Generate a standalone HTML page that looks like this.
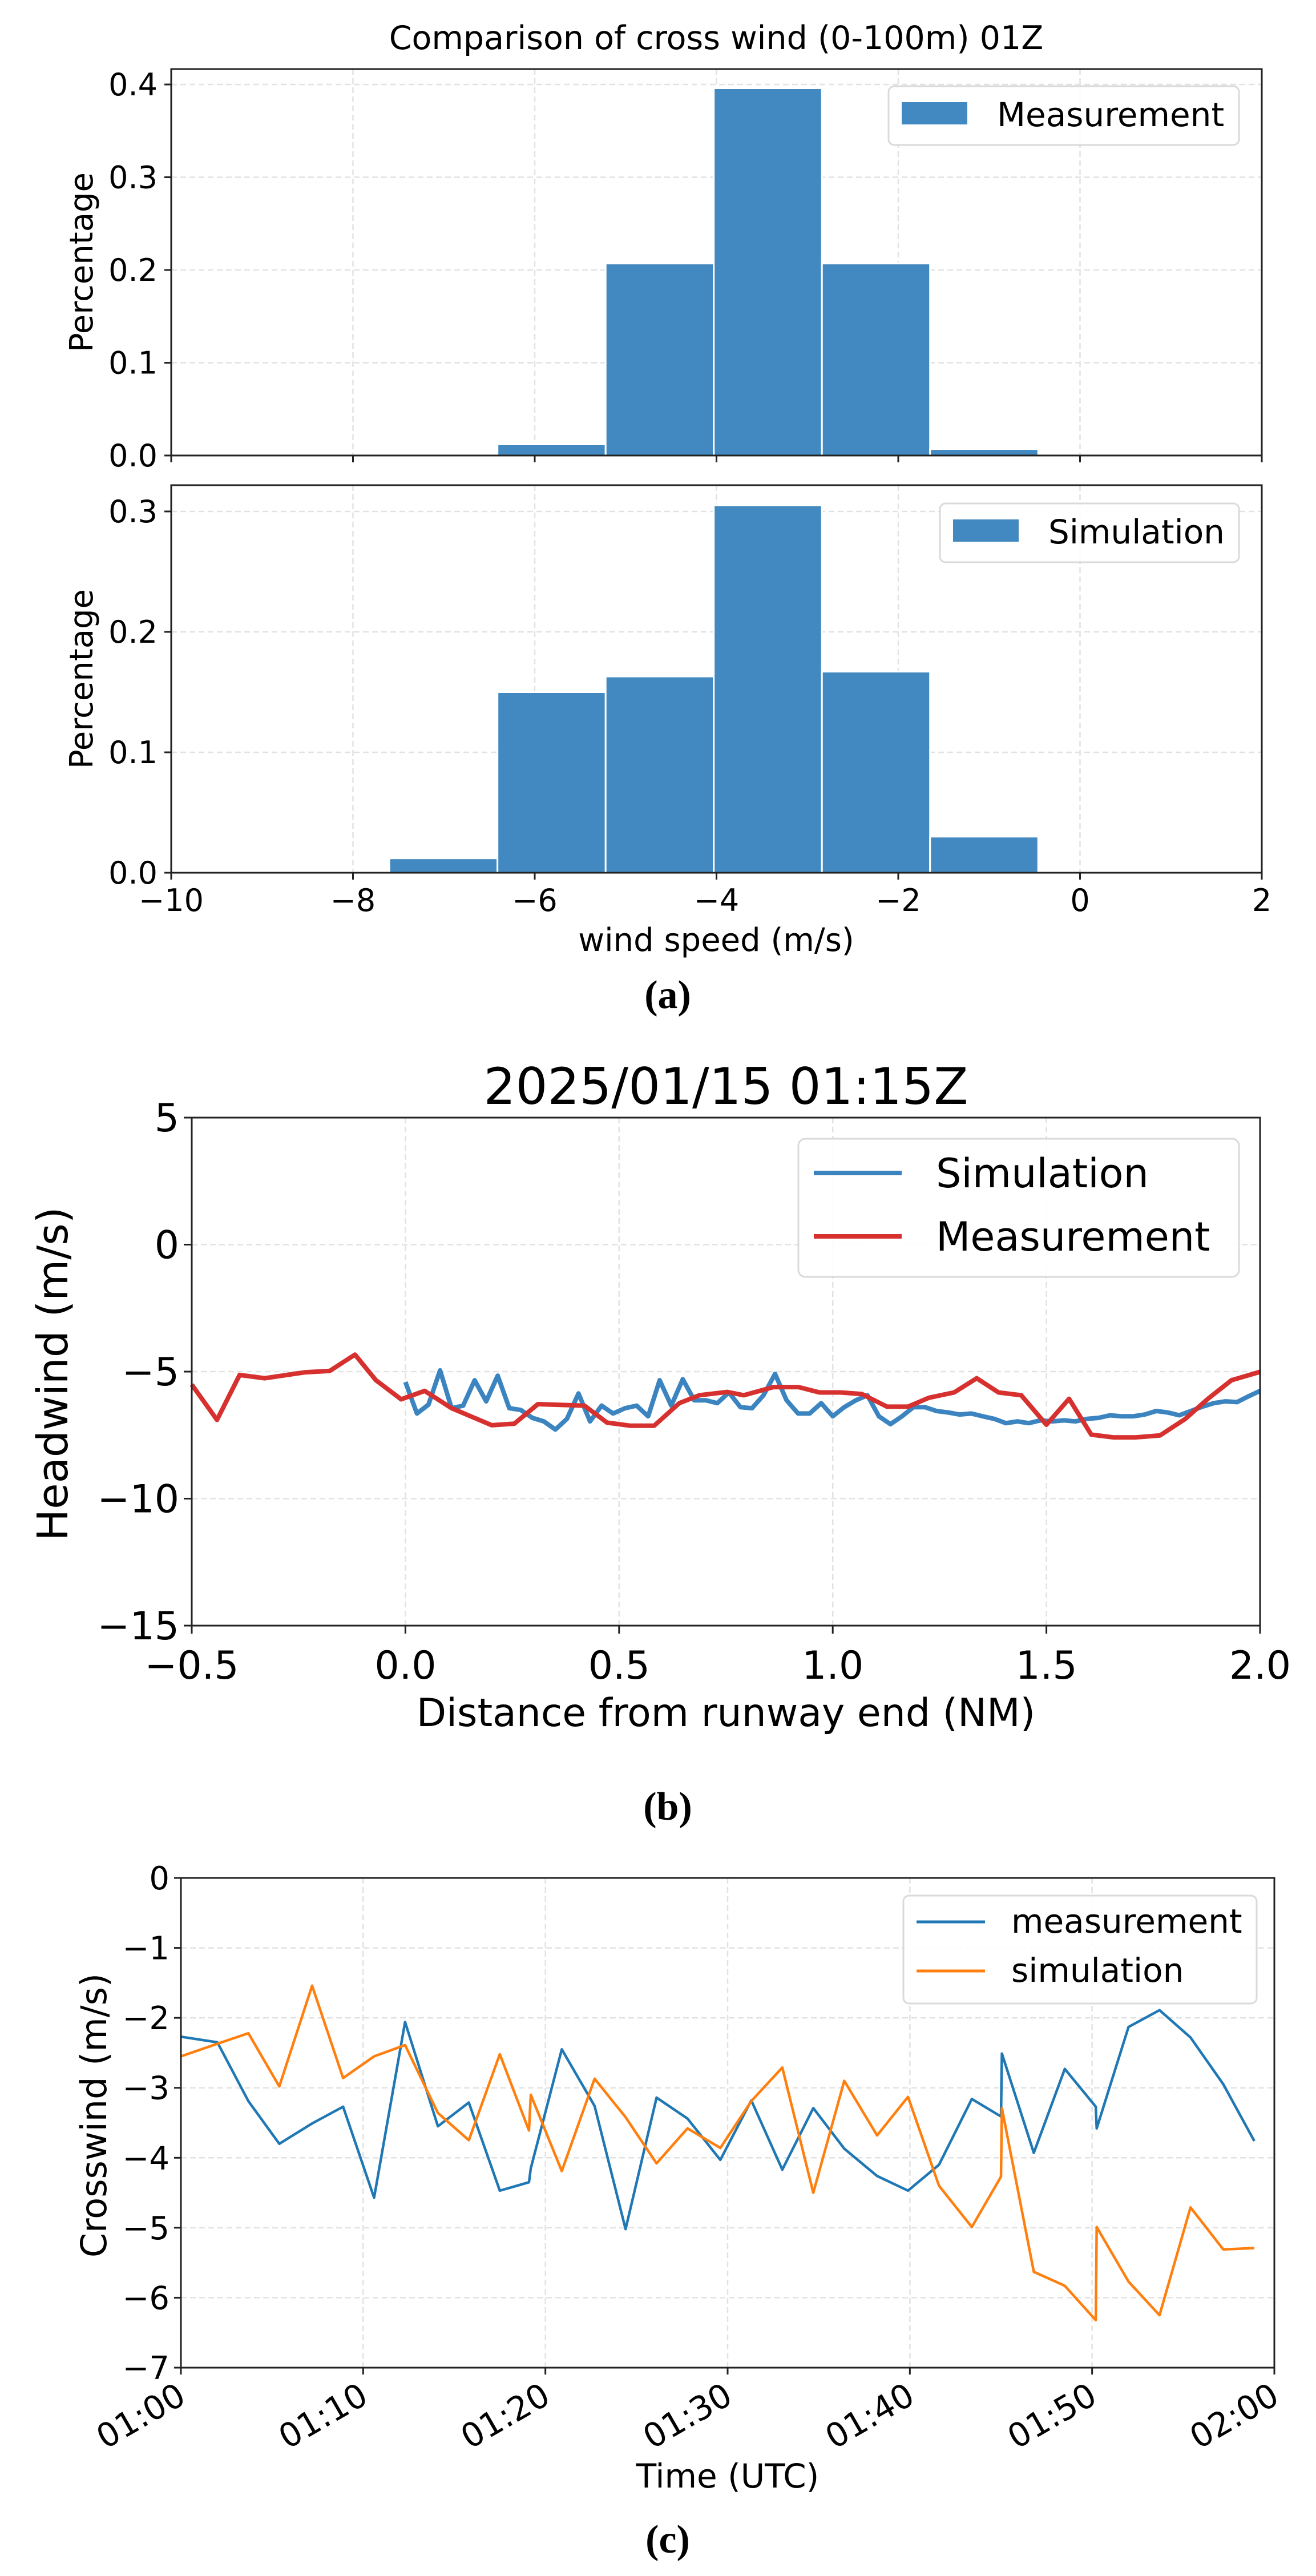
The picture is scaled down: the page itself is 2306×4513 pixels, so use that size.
<!DOCTYPE html>
<html><head><meta charset="utf-8"><style>
html,body{margin:0;padding:0;background:#fff}
svg{display:block}
text{font-family:"DejaVu Sans","Liberation Sans",sans-serif;fill:#000}
.cap{font-family:"Liberation Serif",serif}
</style></head><body>
<svg id="fig" width="2306" height="4513" viewBox="0 0 2306 4513" xmlns="http://www.w3.org/2000/svg">
<rect width="2306" height="4513" fill="#fff"/>
</svg>
<script>
// ---------- Panel (a) data ----------
const binEdges = [-7.6, -6.41, -5.22, -4.03, -2.84, -1.65, -0.46];
const measPct = [0, 0.012, 0.207, 0.396, 0.207, 0.007];
const simPct = [0.012, 0.150, 0.163, 0.305, 0.167, 0.030];
const aXTicks = [-10, -8, -6, -4, -2, 0, 2];
const aTopYTicks = [0.0, 0.1, 0.2, 0.3, 0.4];
const aBotYTicks = [0.0, 0.1, 0.2, 0.3];
// ---------- Panel (b) data ----------
const measDist = [-0.5,-0.441,-0.388,-0.329,-0.236,-0.177,-0.118,-0.069,-0.010,0.045,0.108,0.202,0.255,0.310,0.419,0.472,0.527,0.582,0.641,0.688,0.753,0.792,0.861,0.920,0.969,1.018,1.068,1.127,1.176,1.225,1.284,1.337,1.388,1.441,1.500,1.553,1.605,1.658,1.707,1.766,1.825,1.878,1.933,2.0];
const measHead = [-5.51,-6.90,-5.13,-5.26,-5.03,-4.97,-4.33,-5.34,-6.09,-5.76,-6.44,-7.11,-7.05,-6.28,-6.34,-7.01,-7.13,-7.13,-6.24,-5.93,-5.80,-5.93,-5.61,-5.61,-5.82,-5.82,-5.88,-6.38,-6.38,-6.03,-5.82,-5.26,-5.82,-5.93,-7.09,-6.07,-7.48,-7.59,-7.59,-7.51,-6.86,-6.07,-5.34,-5.01];
const simDist = [0,0.027,0.054,0.081,0.108,0.135,0.162,0.189,0.216,0.243,0.270,0.297,0.324,0.351,0.378,0.405,0.432,0.459,0.486,0.514,0.541,0.568,0.595,0.622,0.649,0.676,0.703,0.730,0.757,0.784,0.811,0.838,0.865,0.892,0.919,0.946,0.973,1.0,1.027,1.054,1.081,1.108,1.135,1.162,1.189,1.216,1.243,1.270,1.297,1.324,1.351,1.378,1.405,1.432,1.459,1.486,1.514,1.541,1.568,1.595,1.622,1.649,1.676,1.703,1.730,1.757,1.784,1.811,1.838,1.865,1.892,1.919,1.946,1.973,2.0];
const simHead = [-5.41,-6.65,-6.30,-4.95,-6.44,-6.34,-5.34,-6.17,-5.16,-6.44,-6.51,-6.82,-6.96,-7.28,-6.86,-5.86,-6.96,-6.34,-6.65,-6.44,-6.34,-6.76,-5.34,-6.34,-5.30,-6.13,-6.13,-6.24,-5.82,-6.40,-6.44,-5.93,-5.09,-6.13,-6.65,-6.65,-6.24,-6.76,-6.40,-6.13,-5.93,-6.76,-7.07,-6.76,-6.40,-6.40,-6.55,-6.61,-6.69,-6.65,-6.76,-6.86,-7.03,-6.96,-7.03,-6.92,-6.96,-6.92,-6.96,-6.86,-6.82,-6.72,-6.76,-6.76,-6.69,-6.55,-6.61,-6.72,-6.55,-6.38,-6.24,-6.17,-6.20,-5.97,-5.76];
const bXTicks = [-0.5, 0.0, 0.5, 1.0, 1.5, 2.0];
const bXLabels = ["\u22120.5","0.0","0.5","1.0","1.5","2.0"];
const bYTicks = [5, 0, -5, -10, -15];
// ---------- Panel (c) data ----------
const cMinutes = [0,2.0,3.7,5.4,7.2,8.9,10.6,12.3,14.1,15.8,17.5,19.1,19.2,20.9,22.7,24.4,26.1,27.8,29.6,31.3,33.0,34.7,36.4,38.2,39.9,41.6,43.4,45.0,45.05,46.8,48.5,50.2,50.25,52.0,53.7,55.4,57.2,58.9];
const cMeas = [-2.27,-2.35,-3.19,-3.80,-3.51,-3.27,-4.57,-2.06,-3.55,-3.21,-4.47,-4.35,-4.15,-2.45,-3.26,-5.02,-3.14,-3.44,-4.03,-3.18,-4.17,-3.29,-3.87,-4.26,-4.47,-4.10,-3.16,-3.41,-2.51,-3.93,-2.73,-3.27,-3.58,-2.13,-1.89,-2.28,-2.95,-3.76];
const cSim = [-2.55,-2.37,-2.22,-2.98,-1.54,-2.86,-2.55,-2.39,-3.36,-3.75,-2.52,-3.61,-3.10,-4.19,-2.87,-3.42,-4.08,-3.58,-3.86,-3.19,-2.71,-4.50,-2.90,-3.68,-3.13,-4.40,-4.99,-4.27,-3.29,-5.63,-5.83,-6.32,-4.99,-5.77,-6.25,-4.71,-5.31,-5.29];
const cXTicks = [0, 10, 20, 30, 40, 50, 60];
const cXLabels = ["01:00","01:10","01:20","01:30","01:40","01:50","02:00"];
const cYTicks = [0, -1, -2, -3, -4, -5, -6, -7];

const NS = "http://www.w3.org/2000/svg";
const svg = document.getElementById('fig');
function mk(tag, attrs, parent) {
  const e = document.createElementNS(NS, tag);
  for (const k in attrs) e.setAttribute(k, attrs[k]);
  (parent || svg).appendChild(e);
  return e;
}
function txt(s, attrs, parent) { const e = mk('text', attrs, parent); e.textContent = s; return e; }
function lin(d0, d1, r0, r1) { return v => r0 + (v - d0) * (r1 - r0) / (d1 - d0); }
function fmtMinus(v, dec) { const s = Math.abs(v).toFixed(dec); return (v < 0 ? "\u2212" : "") + s; }

// ===================== Panel (a) =====================
const ax = lin(-10, 2, 300, 2211);
const ayTop = lin(0, 0.4, 798, 148);
const ayBot = lin(0, 0.3, 1529, 896);

let t = txt("Comparison of cross wind (0-100m) 01Z", {x:1255, y:86, 'font-size':57, 'text-anchor':'middle'});



function histPanel(top, bottom, ay, yTicks, vals, name, legendLabel, leg, showXLabels) {
  const g = mk('g', {});
  
  
  aXTicks.forEach(v => {
    const l = mk('line', {x1:ax(v), x2:ax(v), y1:top, y2:bottom, stroke:'#e2e2e2', 'stroke-width':2.5, 'stroke-dasharray':'10,6'}, g);
    
    
  });
  yTicks.forEach(v => {
    const l = mk('line', {x1:300, x2:2211, y1:ay(v), y2:ay(v), stroke:'#e2e2e2', 'stroke-width':2.5, 'stroke-dasharray':'10,6'}, g);
    
    
  });
  vals.forEach((v, i) => {
    if (v <= 0) return;
    const x0 = ax(binEdges[i]), x1 = ax(binEdges[i+1]);
    const r = mk('rect', {x:x0, y:ay(v), width:x1 - x0, height:ay(0) - ay(v), fill:'#4189c0', stroke:'#fff', 'stroke-width':3}, g);
    
    
  });
  const f = mk('rect', {x:300, y:top, width:1911, height:bottom - top, fill:'none', stroke:'#222', 'stroke-width':3}, g);
  
  
  yTicks.forEach(v => {
    mk('line', {x1:288, x2:300, y1:ay(v), y2:ay(v), stroke:'#222', 'stroke-width':3}, g);
    const tl = txt(v.toFixed(1), {x:276, y:ay(v) + 19, 'font-size':54, 'text-anchor':'end'}, g);
    
    
  });
  aXTicks.forEach((v, i) => {
    mk('line', {x1:ax(v), x2:ax(v), y1:bottom, y2:bottom + 12, stroke:'#222', 'stroke-width':3}, g);
    if (showXLabels) {
      const tl = txt(fmtMinus(v, 0), {x:ax(v), y:bottom + 67, 'font-size':54, 'text-anchor':'middle'}, g);
      
      
    }
  });
  const yl = txt("Percentage", {x:0, y:0, 'font-size':56, 'text-anchor':'middle', transform:`translate(162,${(top + bottom) / 2}) rotate(-90)`}, g);
  
  
  const lg = mk('g', {}, g);
  
  
  mk('rect', {x:leg.x, y:leg.y, width:2171 - leg.x, height:103, rx:10, fill:'#fff', stroke:'#d6d6d6', 'stroke-width':3, opacity:0.9}, lg);
  mk('rect', {x:leg.x + 23, y:leg.y + 28, width:115, height:39, fill:'#4189c0'}, lg);
  const lt = txt(legendLabel, {x:leg.x + 190, y:leg.y + 70, 'font-size':58}, lg);
  
  
}
histPanel(121, 798, ayTop, aTopYTicks, measPct, 'measurement-histogram', 'Measurement', {x:1557, y:151}, false);
histPanel(850, 1529, ayBot, aBotYTicks, simPct, 'simulation-histogram', 'Simulation', {x:1647, y:882}, true);
t = txt("wind speed (m/s)", {x:1255, y:1666, 'font-size':56, 'text-anchor':'middle'});


t = txt("(a)", {x:1170, y:1766, 'font-size':70, 'text-anchor':'middle', class:'cap', 'font-weight':'bold'});



// ===================== Panel (b) =====================
(function(){
  const L = 336, R = 2208, T = 1958, B = 2848;
  const bx = lin(-0.5, 2.0, L, R);
  const by = lin(5, -15, T, B);
  const g = mk('g', {});
  
  
  let e = txt("2025/01/15 01:15Z", {x:(L + R) / 2, y:1934, 'font-size':88, 'text-anchor':'middle'}, g);
  
  
  bXTicks.forEach(v => { mk('line', {x1:bx(v), x2:bx(v), y1:T, y2:B, stroke:'#e2e2e2', 'stroke-width':2.5, 'stroke-dasharray':'10,6'}, g); });
  bYTicks.forEach(v => { mk('line', {x1:L, x2:R, y1:by(v), y2:by(v), stroke:'#e2e2e2', 'stroke-width':2.5, 'stroke-dasharray':'10,6'}, g); });
  function path(xs, ys, color, name) {
    const d = xs.map((x, i) => (i ? 'L' : 'M') + bx(x).toFixed(1) + ',' + by(ys[i]).toFixed(1)).join('');
    const p = mk('path', {d, fill:'none', stroke:color, 'stroke-width':8, 'stroke-linejoin':'round'}, g);
    
    
  }
  path(simDist, simHead, '#3b84c0', 'simulation-line');
  path(measDist, measHead, '#d6302f', 'measurement-line');
  mk('rect', {x:L, y:T, width:R - L, height:B - T, fill:'none', stroke:'#222', 'stroke-width':3}, g);
  bXTicks.forEach((v, i) => {
    mk('line', {x1:bx(v), x2:bx(v), y1:B, y2:B + 14, stroke:'#222', 'stroke-width':3}, g);
    const tl = txt(bXLabels[i], {x:bx(v), y:B + 93, 'font-size':68, 'text-anchor':'middle'}, g);
    
    
  });
  bYTicks.forEach(v => {
    mk('line', {x1:L - 14, x2:L, y1:by(v), y2:by(v), stroke:'#222', 'stroke-width':3}, g);
    const tl = txt(fmtMinus(v, 0), {x:L - 22, y:by(v) + 24, 'font-size':68, 'text-anchor':'end'}, g);
    
    
  });
  e = txt("Distance from runway end (NM)", {x:(L + R) / 2, y:3024, 'font-size':68, 'text-anchor':'middle'}, g);
  
  
  e = txt("Headwind (m/s)", {x:0, y:0, 'font-size':74, 'text-anchor':'middle', transform:'translate(118,2407) rotate(-90)'}, g);
  
  
  const lg = mk('g', {}, g);
  
  
  mk('rect', {x:1399, y:1995, width:772, height:242, rx:12, fill:'#fff', stroke:'#d6d6d6', 'stroke-width':3, opacity:0.9}, lg);
  mk('line', {x1:1426, x2:1580, y1:2055, y2:2055, stroke:'#3b84c0', 'stroke-width':8}, lg);
  mk('line', {x1:1426, x2:1580, y1:2166, y2:2166, stroke:'#d6302f', 'stroke-width':8}, lg);
  e = txt("Simulation", {x:1640, y:2080, 'font-size':70}, lg);
  
  
  e = txt("Measurement", {x:1640, y:2191, 'font-size':70}, lg);
  
  
  e = txt("(b)", {x:1170, y:3188, 'font-size':70, 'text-anchor':'middle', class:'cap', 'font-weight':'bold'}, g);
  
  
})();

// ===================== Panel (c) =====================
(function(){
  const L = 317, R = 2233, T = 3290, B = 4148;
  const cx = lin(0, 60, L, R);
  const cy = lin(0, -7, T, B);
  const g = mk('g', {});
  
  
  cXTicks.forEach(v => { mk('line', {x1:cx(v), x2:cx(v), y1:T, y2:B, stroke:'#e2e2e2', 'stroke-width':2.5, 'stroke-dasharray':'10,6'}, g); });
  cYTicks.forEach(v => { mk('line', {x1:L, x2:R, y1:cy(v), y2:cy(v), stroke:'#e2e2e2', 'stroke-width':2.5, 'stroke-dasharray':'10,6'}, g); });
  function path(xs, ys, color, name) {
    const d = xs.map((x, i) => (i ? 'L' : 'M') + cx(x).toFixed(1) + ',' + cy(ys[i]).toFixed(1)).join('');
    const p = mk('path', {d, fill:'none', stroke:color, 'stroke-width':4.5, 'stroke-linejoin':'round'}, g);
    
    
  }
  path(cMinutes, cMeas, '#1f77b4', 'measurement-line');
  path(cMinutes, cSim, '#ff7f0e', 'simulation-line');
  mk('rect', {x:L, y:T, width:R - L, height:B - T, fill:'none', stroke:'#222', 'stroke-width':3}, g);
  cXTicks.forEach((v, i) => {
    mk('line', {x1:cx(v), x2:cx(v), y1:B, y2:B + 12, stroke:'#222', 'stroke-width':3}, g);
    const tl = txt(cXLabels[i], {x:0, y:0, 'font-size':58, 'text-anchor':'end', transform:`translate(${cx(v) + 12},${B + 60}) rotate(-30)`}, g);
    
    
  });
  cYTicks.forEach(v => {
    mk('line', {x1:L - 12, x2:L, y1:cy(v), y2:cy(v), stroke:'#222', 'stroke-width':3}, g);
    const tl = txt(fmtMinus(v, 0), {x:L - 20, y:cy(v) + 20, 'font-size':56, 'text-anchor':'end'}, g);
    
    
  });
  let e = txt("Time (UTC)", {x:(L + R) / 2, y:4358, 'font-size':58, 'text-anchor':'middle'}, g);
  
  
  e = txt("Crosswind (m/s)", {x:0, y:0, 'font-size':62, 'text-anchor':'middle', transform:'translate(186,3706) rotate(-90)'}, g);
  
  
  const lg = mk('g', {}, g);
  
  
  mk('rect', {x:1583, y:3321, width:619, height:189, rx:10, fill:'#fff', stroke:'#d6d6d6', 'stroke-width':3, opacity:0.9}, lg);
  mk('line', {x1:1606, x2:1726, y1:3367, y2:3367, stroke:'#1f77b4', 'stroke-width':5}, lg);
  mk('line', {x1:1606, x2:1726, y1:3453, y2:3453, stroke:'#ff7f0e', 'stroke-width':5}, lg);
  e = txt("measurement", {x:1772, y:3386, 'font-size':58}, lg);
  
  
  e = txt("simulation", {x:1772, y:3472, 'font-size':58}, lg);
  
  
  e = txt("(c)", {x:1170, y:4472, 'font-size':70, 'text-anchor':'middle', class:'cap', 'font-weight':'bold'}, g);
  
  
})();
</script>
</body></html>
